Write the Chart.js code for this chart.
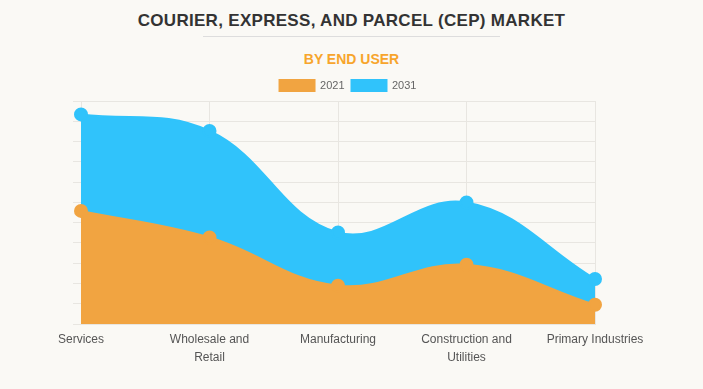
<!DOCTYPE html>
<html>
<head>
<meta charset="utf-8">
<script src="https://cdn.jsdelivr.net/npm/chart.js@4.4.0/dist/chart.umd.min.js"></script>
<style>
  html, body { margin: 0; padding: 0; background: #faf9f5; }
  body { width: 703px; height: 389px; position: relative; overflow: hidden; font-family: "Liberation Sans", Arial, sans-serif; }
  #title { position: absolute; top: 11px; left: 0; width: 703px; text-align: center; font-weight: bold; font-size: 17px; color: #333; letter-spacing: 0.3px; }
  #rule { position: absolute; top: 36px; left: 203px; width: 297px; height: 1px; background: #ddd; }
  #subtitle { position: absolute; top: 51px; left: 0; width: 703px; text-align: center; font-weight: bold; font-size: 14px; color: #f7a52c; }
  #wrap { position: absolute; left: 0; top: 73px; width: 703px; height: 316px; }
</style>
</head>
<body>
<div id="title">COURIER, EXPRESS, AND PARCEL (CEP) MARKET</div>
<div id="rule"></div>
<div id="subtitle">BY END USER</div>
<div id="wrap"><canvas id="chart"></canvas></div>
<script>
const categories = ["Services", ["Wholesale and", "Retail"], "Manufacturing", ["Construction and", "Utilities"], "Primary Industries"];
const values2021 = [55.8, 42.7, 18.9, 29.2, 9.5];
const values2031 = [103.4, 95.2, 45.1, 59.9, 22.2];
const yMax = 110;
const yStep = 10;

const ctx = document.getElementById("chart");

// nudge the legend a bit to the right, like in the original
const legendShift = {
  id: "legendShift",
  afterLayout(chart) {
    chart.legend.left += 14;
    chart.legend.right += 14;
  },
};

const config = {
  type: "line",
  data: {
    labels: categories,
    datasets: [
      {
        label: "2021",
        data: values2021,
        backgroundColor: "#f1a441",
        borderColor: "#f1a441",
        pointBackgroundColor: "#f1a441",
        pointBorderColor: "#f1a441",
        pointRadius: 6,
        borderWidth: 2,
        fill: "origin",
        tension: 0.4,
        order: 1,
      },
      {
        label: "2031",
        data: values2031,
        backgroundColor: "#30c3fb",
        borderColor: "#30c3fb",
        pointBackgroundColor: "#30c3fb",
        pointBorderColor: "#30c3fb",
        pointRadius: 6,
        borderWidth: 2,
        fill: "origin",
        tension: 0.4,
        order: 2,
      },
    ],
  },
  options: {
    responsive: true,
    maintainAspectRatio: false,
    animation: false,
    layout: { padding: { left: 73, right: 108, top: 0, bottom: 15 } },
    plugins: {
      legend: {
        labels: {
          boxWidth: 35,
          boxHeight: 11,
          padding: 7,
          color: "#666",
          font: { size: 11, family: "Liberation Sans, Arial, sans-serif" },
        },
      },
      tooltip: { enabled: false },
    },
    scales: {
      x: {
        grid: { color: "#e8e6e1", drawTicks: false },
        border: { color: "#e8e6e1" },
        ticks: {
          color: "#555",
          padding: 7,
          maxRotation: 0,
          autoSkip: false,
          font: { size: 12, family: "Liberation Sans, Arial, sans-serif", lineHeight: 1.5 },
        },
      },
      y: {
        min: 0,
        max: yMax,
        ticks: { display: false, stepSize: yStep },
        grid: { color: "#e8e6e1", tickLength: 8 },
        border: { color: "#e8e6e1" },
      },
    },
  },
  plugins: [legendShift],
};

new Chart(ctx, config);
</script>
</body>
</html>
